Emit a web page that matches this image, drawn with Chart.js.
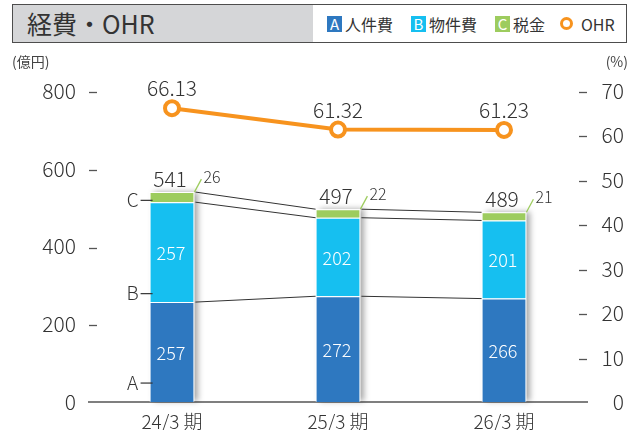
<!DOCTYPE html>
<html>
<head>
<meta charset="utf-8">
<script src="https://cdn.jsdelivr.net/npm/chart.js@4.4.1/dist/chart.umd.min.js"></script>
<style>
  html, body { margin: 0; padding: 0; background: #fff; }
  body { width: 643px; height: 430px; position: relative; overflow: hidden;
         font-family: "Noto Sans CJK JP", "Noto Sans", sans-serif; color: #333; }
  #c { position: absolute; left: 0; top: 0; }
  #hdr { position: absolute; left: 12px; top: 4px; width: 613px; height: 37px;
         border: 1.5px solid #4d4d4d; background: #fff; }
  #hdr .gray { position: absolute; left: 0; top: 0; width: 300px; height: 37px; background: #d5d6d8; }
  #hdr .title { position: absolute; left: 14px; top: 0; line-height: 37px; font-size: 25px; font-weight: 400; color: #333; }
  .leg { position: absolute; top: 0; height: 37px; display: flex; align-items: center; font-size: 16px; color: #333; }
  .sq { display: inline-block; width: 15px; height: 16px; line-height: 16px; text-align: center;
        color: #fff; font-size: 15px; margin-right: 3px; }
  .circ { display: inline-block; width: 7px; height: 7px; border: 3.5px solid #f7931e; border-radius: 50%;
          background: #fff; margin-right: 8px; }
  .unit { position: absolute; top: 51px; font-size: 14px; color: #444; }
</style>
</head>
<body>
<canvas id="c" width="643" height="430"></canvas>
<div id="hdr">
  <div class="gray"></div>
  <div class="title">経費・OHR</div>
  <div class="leg" style="left:314px"><span class="sq" style="background:#2e78c0">A</span>人件費</div>
  <div class="leg" style="left:398px"><span class="sq" style="background:#16bff0">B</span>物件費</div>
  <div class="leg" style="left:482px"><span class="sq" style="background:#9dcc5e">C</span>税金</div>
  <div class="leg" style="left:547px"><span class="circ"></span>OHR</div>
</div>
<div class="unit" style="left:12px">(億円)</div>
<div class="unit" style="right:15px">(%)</div>
<script>
// ---- data ----
const categories = ['24/3 期', '25/3 期', '26/3 期'];
const personnel = [257, 272, 266];   // A 人件費
const property = [257, 202, 201];    // B 物件費
const taxes = [26, 22, 21];          // C 税金
const totals = [541, 497, 489];
const ohr = [66.13, 61.32, 61.23];
const leftTicks = [0, 200, 400, 600, 800];
const rightTicks = [0, 10, 20, 30, 40, 50, 60, 70];
const segLetters = ['A', 'B', 'C'];
const segLetterValues = [50, 280, 520];

const COL_A = '#2e78c0', COL_B = '#16bff0', COL_C = '#9dcc5e', COL_O = '#f7931e';
const TXT = '#333333';
const FONT = '"Noto Sans CJK JP", "Noto Sans", sans-serif';

const deco = {
  id: 'deco',
  beforeDatasetsDraw(chart) {
    const ctx = chart.ctx;
    const metaA = chart.getDatasetMeta(0), metaC = chart.getDatasetMeta(2);
    ctx.save();
    metaA.data.forEach((el, i) => {
      const top = metaC.data[i].y;
      const bottom = el.base;
      ctx.shadowColor = 'rgba(0,0,0,0.35)';
      ctx.shadowBlur = 6;
      ctx.shadowOffsetX = 4;
      ctx.fillStyle = '#fff';
      ctx.fillRect(el.x - el.width / 2, top, el.width, bottom - top - 1);
    });
    ctx.restore();
  },
  afterDatasetsDraw(chart) {
    const ctx = chart.ctx;
    const ys = chart.scales.y, y2 = chart.scales.y2;
    const ca = chart.chartArea;
    ctx.save();
    // tick dashes
    ctx.strokeStyle = '#555';
    ctx.lineWidth = 1.3;
    leftTicks.forEach(v => {
      if (v === 0) return;
      const py = Math.round(ys.getPixelForValue(v)) + 1.5;
      ctx.beginPath(); ctx.moveTo(ca.left, py); ctx.lineTo(ca.left + 8, py); ctx.stroke();
    });
    rightTicks.forEach(v => {
      if (v === 0) return;
      const py = Math.round(y2.getPixelForValue(v)) + 1.5;
      ctx.beginPath(); ctx.moveTo(ca.right - 8, py); ctx.lineTo(ca.right, py); ctx.stroke();
    });
    // connector lines between bars
    ctx.strokeStyle = '#333';
    ctx.lineWidth = 1;
    [0, 1, 2].forEach(d => {
      const meta = chart.getDatasetMeta(d);
      for (let i = 0; i < meta.data.length - 1; i++) {
        const a = meta.data[i], b = meta.data[i + 1];
        ctx.beginPath();
        ctx.moveTo(a.x + a.width / 2 + 1, a.y);
        ctx.lineTo(b.x - b.width / 2, b.y);
        ctx.stroke();
      }
    });
    // values inside A and B
    ctx.fillStyle = '#fff';
    ctx.font = '300 18px ' + FONT;
    ctx.textAlign = 'center';
    ctx.textBaseline = 'middle';
    [[0, personnel], [1, property]].forEach(([d, arr]) => {
      const meta = chart.getDatasetMeta(d);
      meta.data.forEach((el, i) => {
        ctx.fillText(String(arr[i]), el.x - 1, (el.y + el.base) / 2 + 1);
      });
    });
    // totals and tax values
    const metaC = chart.getDatasetMeta(2);
    metaC.data.forEach((el, i) => {
      ctx.fillStyle = TXT;
      ctx.font = '300 21px ' + FONT;
      ctx.textAlign = 'center';
      ctx.fillText(String(totals[i]), el.x - 2, el.y - 13);
      const rx = el.x + el.width / 2;
      ctx.strokeStyle = COL_C;
      ctx.lineWidth = 1.3;
      ctx.beginPath(); ctx.moveTo(rx, el.y); ctx.lineTo(rx + 7, el.y - 13); ctx.stroke();
      ctx.font = '300 16px ' + FONT;
      ctx.textAlign = 'left';
      ctx.fillText(String(taxes[i]), rx + 9, el.y - 15);
    });
    // segment letters
    const first = chart.getDatasetMeta(0).data[0];
    const bl = first.x - first.width / 2;
    ctx.font = '300 19px ' + FONT;
    ctx.textAlign = 'center';
    ctx.fillStyle = TXT;
    ctx.strokeStyle = '#333';
    ctx.lineWidth = 1.2;
    segLetters.forEach((L, k) => {
      const py = ys.getPixelForValue(segLetterValues[k]);
      ctx.fillText(L, bl - 17, py);
      ctx.beginPath(); ctx.moveTo(bl - 9, py + 0.5); ctx.lineTo(bl + 3, py + 0.5); ctx.stroke();
    });
    ctx.restore();
  },
  afterDraw(chart) {
    const ctx = chart.ctx;
    const meta = chart.getDatasetMeta(3);
    ctx.save();
    ctx.fillStyle = TXT;
    ctx.font = '300 21px ' + FONT;
    ctx.textAlign = 'center';
    ctx.textBaseline = 'middle';
    meta.data.forEach((el, i) => {
      ctx.fillText(ohr[i].toFixed(2), el.x, el.y - 20);
    });
    ctx.restore();
  }
};

new Chart(document.getElementById('c'), {
  data: {
    labels: categories,
    datasets: [
      { type: 'bar', label: '人件費', data: personnel, backgroundColor: COL_A, borderColor: '#fff', borderWidth: 1,
        stack: 's', yAxisID: 'y', order: 1, categoryPercentage: 1, barPercentage: 0.27 },
      { type: 'bar', label: '物件費', data: property, backgroundColor: COL_B, borderColor: '#fff', borderWidth: 1,
        stack: 's', yAxisID: 'y', order: 1, categoryPercentage: 1, barPercentage: 0.27 },
      { type: 'bar', label: '税金', data: taxes, backgroundColor: COL_C, borderColor: '#fff', borderWidth: 1,
        stack: 's', yAxisID: 'y', order: 1, categoryPercentage: 1, barPercentage: 0.27 },
      { type: 'line', label: 'OHR', data: ohr, yAxisID: 'y2', order: 0, borderColor: COL_O, borderWidth: 4,
        pointRadius: 7, pointHoverRadius: 7, pointBackgroundColor: '#fff', pointBorderColor: COL_O,
        pointBorderWidth: 4, tension: 0, fill: false }
    ]
  },
  options: {
    responsive: false,
    maintainAspectRatio: false,
    animation: false,
    events: [],
    layout: { padding: { top: 91, left: 0, right: 19, bottom: 0 } },
    plugins: { legend: { display: false }, tooltip: { enabled: false } },
    scales: {
      x: {
        stacked: true,
        grid: { display: false, drawTicks: false },
        border: { display: true, color: '#7f7f7f', width: 2 },
        ticks: { color: TXT, font: { family: FONT, size: 19, weight: 300 }, padding: 8 },
        afterFit(s) { s.height = 28; }
      },
      y: {
        position: 'left', stacked: true, min: 0, max: 800,
        afterBuildTicks(s) { s.ticks = leftTicks.map(v => ({ value: v })); },
        grid: { display: false, drawTicks: false },
        border: { display: false },
        ticks: { color: TXT, font: { family: FONT, size: 21, weight: 300 }, padding: 13 },
        afterFit(s) { s.width = 89; }
      },
      y2: {
        position: 'right', min: 0, max: 70,
        afterBuildTicks(s) { s.ticks = rightTicks.map(v => ({ value: v })); },
        grid: { display: false, drawTicks: false },
        border: { display: false },
        ticks: { color: TXT, font: { family: FONT, size: 21, weight: 300 }, padding: 11, crossAlign: 'far' },
        afterFit(s) { s.width = 37; }
      }
    }
  },
  plugins: [deco]
});
</script>
</body>
</html>
